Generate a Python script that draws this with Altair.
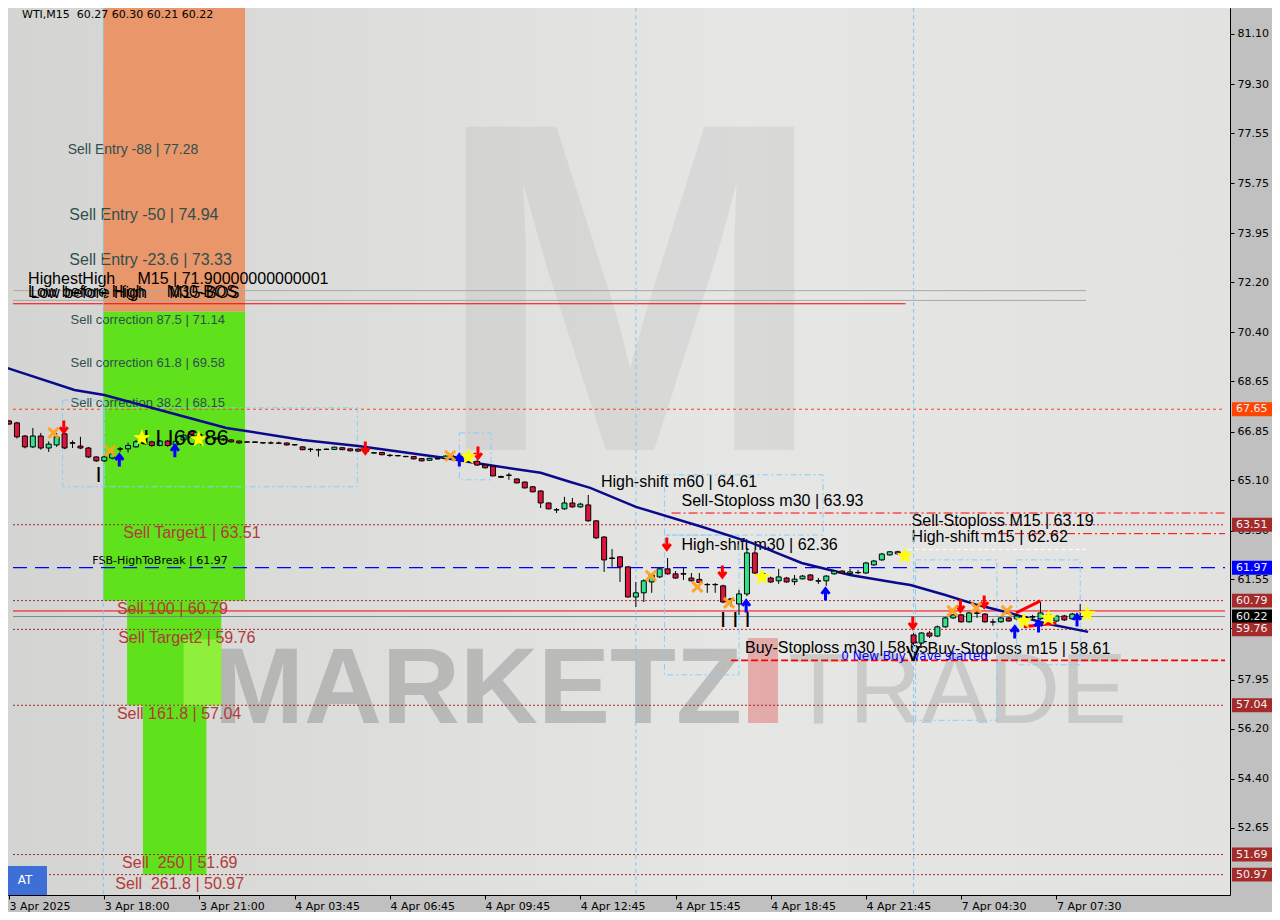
import altair as alt
import pandas as pd

# ---------------- candles (M15 bars, index 0..135) ----------------
opens = [67.23, 67.16, 66.69, 66.30, 66.69, 66.26, 66.37, 66.77, 66.45, 66.33,
         66.26, 65.94, 65.80, 65.90, 66.22, 66.23, 66.30, 66.45, 66.48, 66.35,
         66.51, 66.37, 66.55, 66.85, 66.75, 66.66, 66.62, 66.58, 66.55, 66.51,
         66.48, 66.48, 66.45, 66.44, 66.44, 66.44, 66.38, 66.30, 66.22, 66.20,
         66.22, 66.21, 66.27, 66.23, 66.22, 66.22, 66.09, 66.10, 66.00, 65.99,
         65.96, 65.95, 65.88, 65.82, 65.88, 65.88, 65.96, 65.95, 65.93, 65.78,
         65.65, 65.60, 65.24, 65.29, 65.15, 65.04, 64.87, 64.72, 64.29, 64.05,
         64.08, 64.29, 64.15, 64.22, 63.65, 63.07, 62.32, 62.36, 62.00, 60.92,
         61.07, 61.46, 61.64, 61.93, 61.75, 61.76, 61.60, 61.55, 61.37, 61.37,
         61.32, 60.85, 60.67, 61.03, 62.50, 61.75, 61.60, 61.50, 61.60, 61.47,
         61.57, 61.71, 61.50, 61.50, 61.75, 61.85, 61.76, 61.80, 61.78, 62.07,
         62.25, 62.43, 62.54, 62.48, 59.56, 59.27, 59.63, 59.52, 59.85, 60.17,
         60.28, 60.03, 60.35, 60.31, 60.03, 60.03, 60.17, 60.14, 60.22, 60.20,
         60.14, 60.10, 60.06, 60.24, 60.14, 60.21]
highs = [67.27, 67.20, 66.72, 66.98, 66.80, 66.50, 66.80, 66.85, 66.53, 66.66,
         66.30, 65.96, 65.98, 66.10, 66.30, 66.45, 66.55, 66.50, 66.52, 66.55,
         66.55, 66.55, 66.78, 66.90, 66.80, 66.70, 66.66, 66.62, 66.58, 66.53,
         66.50, 66.50, 66.47, 66.50, 66.49, 66.46, 66.40, 66.32, 66.26, 66.24,
         66.24, 66.31, 66.29, 66.25, 66.24, 66.26, 66.11, 66.12, 66.05, 66.01,
         65.98, 65.97, 65.90, 65.91, 65.90, 66.00, 66.00, 66.05, 66.08, 65.85,
         65.67, 65.62, 65.27, 65.37, 65.17, 65.06, 64.90, 64.74, 64.31, 64.11,
         64.51, 64.47, 64.30, 64.58, 63.67, 63.10, 62.64, 62.38, 62.02, 61.46,
         61.55, 61.75, 61.96, 62.32, 61.85, 61.96, 61.78, 61.78, 61.42, 61.42,
         61.36, 60.89, 61.17, 62.68, 62.60, 61.80, 61.65, 61.93, 61.64, 61.71,
         61.71, 61.74, 61.60, 61.70, 61.89, 61.88, 61.93, 61.89, 62.18, 62.25,
         62.50, 62.57, 62.58, 62.52, 59.63, 59.66, 59.70, 59.90, 60.21, 60.31,
         60.31, 60.38, 60.40, 60.34, 60.14, 60.20, 60.20, 60.27, 60.26, 60.28,
         60.74, 60.32, 60.28, 60.28, 60.35, 60.67]
lows = [67.09, 66.60, 66.25, 66.26, 66.20, 66.12, 66.30, 66.22, 66.26, 66.22,
        65.90, 65.76, 65.76, 65.85, 66.12, 66.10, 66.28, 66.38, 66.30, 66.32,
        66.30, 66.33, 66.50, 66.70, 66.60, 66.58, 66.55, 66.52, 66.46, 66.42,
        66.45, 66.44, 66.42, 66.40, 66.40, 66.35, 66.35, 66.18, 66.12, 65.95,
        66.19, 66.19, 66.18, 66.14, 66.13, 66.12, 66.06, 66.00, 65.94, 65.96,
        65.93, 65.85, 65.78, 65.80, 65.85, 65.85, 65.90, 65.92, 65.90, 65.62,
        65.53, 65.25, 65.19, 65.12, 64.99, 64.81, 64.67, 64.11, 64.06, 63.93,
        64.05, 64.12, 64.12, 63.62, 63.00, 61.82, 62.00, 61.46, 60.90, 60.56,
        60.74, 61.07, 61.60, 61.72, 61.58, 61.53, 61.48, 61.42, 61.07, 61.07,
        60.70, 60.56, 60.28, 60.95, 61.75, 61.58, 61.42, 61.39, 61.43, 61.35,
        61.55, 61.50, 61.39, 61.32, 61.72, 61.76, 61.71, 61.74, 61.75, 62.04,
        62.22, 62.40, 62.44, 62.38, 59.20, 59.22, 59.45, 59.48, 59.82, 60.14,
        60.00, 60.00, 60.17, 60.00, 59.89, 60.00, 60.04, 60.10, 60.15, 60.10,
        60.10, 60.06, 60.03, 60.06, 60.10, 60.17]
closes = [67.12, 66.66, 66.30, 66.69, 66.26, 66.40, 66.66, 66.26, 66.43, 66.26,
          65.94, 65.80, 65.94, 66.05, 66.23, 66.35, 66.48, 66.42, 66.35, 66.51,
          66.35, 66.50, 66.72, 66.75, 66.66, 66.62, 66.58, 66.55, 66.48, 66.44,
          66.47, 66.46, 66.44, 66.44, 66.43, 66.37, 66.37, 66.20, 66.21, 66.19,
          66.21, 66.29, 66.20, 66.16, 66.15, 66.14, 66.08, 66.02, 65.99, 65.98,
          65.95, 65.87, 65.80, 65.89, 65.87, 65.97, 65.93, 66.00, 66.02, 65.65,
          65.55, 65.26, 65.21, 65.28, 65.01, 64.83, 64.69, 64.29, 64.08, 64.04,
          64.29, 64.15, 64.25, 63.65, 63.04, 62.25, 62.30, 62.00, 60.92, 61.07,
          61.50, 61.71, 61.93, 61.75, 61.60, 61.74, 61.50, 61.44, 61.36, 61.36,
          60.74, 60.84, 61.03, 62.50, 61.78, 61.62, 61.46, 61.64, 61.46, 61.56,
          61.67, 61.53, 61.49, 61.67, 61.85, 61.78, 61.82, 61.79, 62.14, 62.21,
          62.46, 62.54, 62.47, 62.42, 59.27, 59.63, 59.52, 59.85, 60.17, 60.28,
          60.03, 60.35, 60.33, 60.03, 60.02, 60.17, 60.06, 60.24, 60.20, 60.22,
          60.35, 60.28, 60.24, 60.10, 60.31, 60.22]
bar_index = list(range(len(opens)))

# moving average (read at points along the navy line)
ma_index = [-0.25, 8.25, 12, 27.4, 37, 44, 55, 58.6, 67, 70.75, 73.25, 79, 87.4,
            93.6, 99.9, 106, 112, 113.6, 117.9, 122, 126.1, 130.4, 136]
ma_value = [69.13, 68.34, 68.16, 66.98, 66.55, 66.33, 65.90, 65.73, 65.37, 65.04,
            64.83, 64.15, 63.43, 62.86, 62.14, 61.71, 61.42, 61.35, 61.00, 60.64,
            60.35, 59.99, 59.67]

# axes
x_tick_index = [0, 12, 24, 36, 48, 60, 72, 84, 96, 108, 120, 132]
x_tick_labels = ["3 Apr 2025", "3 Apr 18:00", "3 Apr 21:00", "4 Apr 03:45", "4 Apr 06:45",
                 "4 Apr 09:45", "4 Apr 12:45", "4 Apr 15:45", "4 Apr 18:45", "4 Apr 21:45",
                 "7 Apr 04:30", "7 Apr 07:30"]
y_tick_values = [81.10, 79.30, 77.55, 75.75, 73.95, 72.20, 70.40, 68.65, 66.85, 65.10,
                 63.30, 61.55, 59.80, 57.95, 56.20, 54.40, 52.65]

X0, X1 = 0.5, 153.25          # visible bar-index range
P0, P1 = 50.24, 82.03         # visible price range

# horizontal levels
hl_price = [67.65, 63.93, 63.51, 63.19, 62.62, 61.97, 60.79, 60.42, 60.22, 59.76,
            58.65, 57.04, 51.69, 50.97, 71.90, 71.55, 71.43]
hl_start = [X0, 83.5, X0, 122.5, 113.25, X0, X0, X0, X0, X0,
            91.0, X0, X0, X0, X0, X0, X0]
hl_end = [X1, X1, X1, X1, 135.75, X1, X1, X1, X1, X1,
          X1, X1, X1, X1, 135.75, 135.75, 113.0]
hl_color = ["#ff4500", "#ff0000", "#a52a2a", "#ff0000", "#ffffff", "#0000ff", "#a52a2a",
            "#ff0000", "#778899", "#a52a2a", "#ff0000", "#a52a2a", "#a52a2a", "#a52a2a",
            "#a9a9a9", "#a9a9a9", "#ff0000"]
hl_dash = [[3, 3], [9, 3, 2, 3], [2, 2], [9, 3, 2, 3], [4, 3], [14, 8], [2, 2], [1, 0],
           [1, 0], [2, 2], [7, 3], [2, 2], [2, 2], [2, 2], [1, 0], [1, 0], [1, 0]]
hl_width = [1, 1, 1, 1, 1, 1.3, 1, 1, 1, 1, 1.6, 1, 1, 1, 1, 1, 1]

# axis price boxes
box_price = [67.65, 63.51, 61.97, 60.79, 60.22, 59.76, 57.04, 51.69, 50.97]
box_color = ["#ff4500", "#a52a2a", "#0000ff", "#a52a2a", "#000000", "#a52a2a", "#a52a2a",
             "#a52a2a", "#a52a2a"]

# zones
zone_x1 = [11.875, 11.875, 14.875, 22.0, 16.875]
zone_x2 = [29.75, 29.75, 26.75, 26.75, 24.875]
zone_top = [P1, 71.14, 60.79, 59.40, 57.04]
zone_bot = [71.14, 60.79, 57.04, 57.04, 50.97]
zone_color = ["#e9966a", "#5fe21c", "#5fe21c", "#8ef03a", "#5fe21c"]

# light blue dashed boxes
lb_x1 = [6.75, 12.0, 56.75, 82.6, 82.6, 114.25, 127.0]
lb_x2 = [12.0, 43.9, 60.75, 102.6, 92.0, 124.5, 135.0]
lb_top = [67.98, 67.70, 66.80, 65.30, 63.14, 62.25, 62.25]
lb_bot = [64.87, 64.87, 65.12, 63.14, 58.13, 56.50, 58.49]

# vertical separators
vsep_index = [11.875, 79.0, 114.0]

# signals
down_i = [6.9, 44.9, 59.1, 82.9, 89.9, 113.9, 119.9, 122.9]
down_p = [67.01, 66.26, 66.08, 62.82, 61.82, 59.99, 60.60, 60.74]
up_i = [13.9, 20.9, 56.75, 92.9, 102.9, 126.75, 129.75, 134.6]
up_p = [65.83, 66.16, 65.83, 60.60, 61.03, 59.67, 59.88, 60.10]
x_i = [5.6, 12.75, 55.6, 80.9, 86.75, 90.75, 118.9, 121.9, 125.75]
x_p = [66.80, 66.16, 65.98, 61.68, 61.28, 60.71, 60.42, 60.53, 60.42]
star_i = [16.75, 23.9, 57.9, 94.9, 112.9, 127.9, 131.0, 135.9]
star_p = [66.62, 66.58, 65.94, 61.64, 62.39, 60.06, 60.17, 60.31]
seg_i1 = [126.9, 127.9]
seg_p1 = [60.35, 59.85]
seg_i2 = [130.0, 132.0]
seg_p2 = [60.78, 59.99]

# annotations: (text, index, price) grouped by style
NB = "\u00a0"
entry_text = ["Sell Entry -88 | 77.28", "Sell Entry -50 | 74.94", "Sell Entry -23.6 | 73.33"]
entry_i = [7.4, 7.6, 7.6]
entry_p = [76.94, 74.61, 73.00]
entry_size = [14, 16, 16]

corr_text = ["Sell correction 87.5 | 71.14", "Sell correction 61.8 | 69.58",
             "Sell correction 38.2 | 68.15"]
corr_i = [7.75, 7.75, 7.75]
corr_p = [70.85, 69.31, 67.88]

target_text = ["Sell Target1 | 63.51", "Sell 100 | 60.79", "Sell Target2 | 59.76",
               "Sell 161.8 | 57.04", "Sell" + NB + " 250 | 51.69", "Sell" + NB + " 261.8 | 50.97"]
target_i = [14.4, 13.6, 13.75, 13.6, 14.25, 13.4]
target_p = [63.22, 60.49, 59.45, 56.73, 51.39, 50.64]

black_text = ["HighestHigh" + NB * 5 + "M15 | 71.90000000000001",
              "Low before High" + NB * 5 + "M30-BOS",
              "Low before High" + NB * 5 + "M15-BOS",
              "High-shift m60 | 64.61", "Sell-Stoploss m30 | 63.93", "High-shift m30 | 62.36",
              "Sell-Stoploss M15 | 63.19", "High-shift m15 | 62.62",
              "Buy-Stoploss m30 | 58.65", "Buy-Stoploss m15 | 58.61"]
black_i = [2.4, 2.4, 2.7, 74.6, 84.75, 84.75, 113.75, 113.75, 92.75, 115.75]
black_p = [72.32, 71.85, 71.80, 65.04, 64.36, 62.79, 63.65, 63.07, 59.09, 59.06]

mark_text_ = ["66.86", "I I I", "I", "I I I", "V"]
mark_i = [20.75, 16.9, 10.9, 89.6, 113.0]
mark_p = [66.62, 66.62, 65.30, 60.10, 58.89]

small_text = ["FSB-HighToBreak | 61.97", "0 New Buy wave started"]
small_i = [10.5, 104.9]
small_p = [62.21, 58.81]
small_color = ["#000000", "#0000ff"]
small_size = [11, 12]

# ---------------- chart ----------------
W, H = 1222, 887
xs = alt.Scale(domain=[X0, X1], nice=False, zero=False)
ys = alt.Scale(domain=[P0, P1], nice=False, zero=False)

label_arr = "[" + ",".join("'" + s + "'" for s in x_tick_labels) + "]"
x_axis = alt.Axis(values=x_tick_index, labelExpr=label_arr + "[round(datum.value/12)]",
                  labelAlign="left", labelFont="DejaVu Sans", labelFontSize=11,
                  labelColor="black", tickColor="black", tickSize=4, domain=False,
                  grid=False, title=None, labelPadding=1, labelFlush=False,
                  labelOverlap=False, orient="bottom")
y_axis = alt.Axis(orient="right", values=y_tick_values, format=".2f",
                  labelFont="DejaVu Sans", labelFontSize=11, labelColor="black",
                  tickColor="black", tickSize=4, domain=False, grid=False, title=None,
                  labelPadding=3, labelOverlap=False)


def X(f="x"):
    return alt.X(f + ":Q", scale=xs, axis=x_axis)


def Y(f="y"):
    return alt.Y(f + ":Q", scale=ys, axis=y_axis)


one = pd.DataFrame({"a": [0]})

bg = alt.Chart(one).mark_rect(
    color=alt.LinearGradient(gradient="linear",
                             stops=[alt.GradientStop(color="#d4d4d2", offset=0),
                                    alt.GradientStop(color="#e6e6e5", offset=0.6),
                                    alt.GradientStop(color="#e2e2e1", offset=1)],
                             x1=0, x2=1, y1=0, y2=0)
).encode(x=alt.value(0), x2=alt.value(W), y=alt.value(0), y2=alt.value(H))

logo = alt.Chart(one).mark_text(text="M", font="Liberation Sans", fontWeight="bold",
                                fontSize=470, color="#8a8a8a", opacity=0.13,
                                align="center", baseline="alphabetic").encode(
    x=alt.value(622), y=alt.value(442))
wm1 = alt.Chart(one).mark_text(text="MARKETZ", font="Liberation Sans", fontWeight="bold",
                               fontSize=108, color="#8c8c8c", opacity=0.45,
                               align="left", baseline="alphabetic").encode(
    x=alt.value(206), y=alt.value(715))
wm2 = alt.Chart(one).mark_text(text="TRADE", font="Liberation Sans", fontSize=100,
                               color="#9a9a9a", opacity=0.35,
                               align="left", baseline="alphabetic").encode(
    x=alt.value(780), y=alt.value(715))
wm_red = alt.Chart(one).mark_rect(color="#e07070", opacity=0.5).encode(
    x=alt.value(740), x2=alt.value(770), y=alt.value(630), y2=alt.value(715))

title = alt.Chart(one).mark_text(text="WTI,M15" + NB + " 60.27 60.30 60.21 60.22",
                                 font="DejaVu Sans", fontSize=11, color="black",
                                 align="left", baseline="middle").encode(
    x=alt.value(14), y=alt.value(7))
at_box = alt.Chart(one).mark_rect(color="#3d6fd6").encode(
    x=alt.value(0), x2=alt.value(39), y=alt.value(858), y2=alt.value(H))
at_txt = alt.Chart(one).mark_text(text="AT", font="DejaVu Sans", fontSize=12,
                                  color="white", align="center", baseline="middle").encode(
    x=alt.value(17), y=alt.value(872))

zones_df = pd.DataFrame({"x": zone_x1, "x2": zone_x2, "y": zone_top, "y2": zone_bot,
                         "c": zone_color})
zones = alt.Chart(zones_df).mark_rect().encode(
    x=X(), x2="x2:Q", y=Y(), y2="y2:Q", color=alt.Color("c:N", scale=None))

layers = [bg, logo, wm1, wm2, wm_red, zones]

for p, s, e, c, d, w in zip(hl_price, hl_start, hl_end, hl_color, hl_dash, hl_width):
    df = pd.DataFrame({"x": [s], "x2": [e], "y": [p]})
    layers.append(alt.Chart(df).mark_rule(color=c, strokeDash=d, strokeWidth=w).encode(
        x=X(), x2="x2:Q", y=Y()))


def text_layer(texts, xi, yp, font, size, color):
    df = pd.DataFrame({"x": xi, "y": yp, "t": texts})
    return alt.Chart(df).mark_text(font=font, fontSize=size, color=color, align="left",
                                   baseline="middle").encode(x=X(), y=Y(), text="t:N")


for t, xi, yp, s in zip(entry_text, entry_i, entry_p, entry_size):
    layers.append(text_layer([t], [xi], [yp], "Liberation Sans", s, "#2f4f4f"))
layers.append(text_layer(corr_text, corr_i, corr_p, "Liberation Sans", 13, "#2f4f4f"))
layers.append(text_layer(target_text, target_i, target_p, "Liberation Sans", 16, "#b23a3a"))
layers.append(text_layer(black_text, black_i, black_p, "Liberation Sans", 16, "#000000"))
for t, xi, yp, c, s in zip(small_text, small_i, small_p, small_color, small_size):
    layers.append(text_layer([t], [xi], [yp], "DejaVu Sans", s, c))

bx = pd.DataFrame({"y": [p + 0.25 for p in box_price], "y2": [p - 0.25 for p in box_price],
                   "p": box_price, "c": box_color,
                   "t": ["%.2f" % p for p in box_price]})
layers.append(alt.Chart(bx).mark_rect().encode(
    x=alt.value(W + 2), x2=alt.value(W + 42), y=Y(), y2="y2:Q",
    color=alt.Color("c:N", scale=None)))
layers.append(alt.Chart(bx).mark_text(font="DejaVu Sans", fontSize=11, color="#f0f0f0",
                                      align="left", baseline="middle").encode(
    x=alt.value(W + 6), y=Y("p"), text="t:N"))

vs_df = pd.DataFrame({"x": vsep_index})
layers.append(alt.Chart(vs_df).mark_rule(color="#7fc8f0", strokeDash=[4, 3],
                                         strokeWidth=1).encode(x=X()))

lb_df = pd.DataFrame({"x": lb_x1, "x2": lb_x2, "y": lb_top, "y2": lb_bot})
layers.append(alt.Chart(lb_df).mark_rect(fillOpacity=0, stroke="#87cefa", strokeWidth=1,
                                         strokeDash=[6, 3, 2, 3]).encode(
    x=X(), x2="x2:Q", y=Y(), y2="y2:Q"))

ma_df = pd.DataFrame({"x": ma_index, "y": ma_value})
layers.append(alt.Chart(ma_df).mark_line(color="#0a0a8c", strokeWidth=2.5, clip=True).encode(
    x=X(), y=Y()))

cd = pd.DataFrame({"x": bar_index, "o": opens, "h": highs, "l": lows, "c": closes})
cd["col"] = ["#2fe38e" if c >= o else "#dc143c" for o, c in zip(opens, closes)]
wicks = alt.Chart(cd).mark_rule(color="black", strokeWidth=1, clip=True).encode(
    x=X(), y=Y("l"), y2="h:Q")
bodies = alt.Chart(cd).mark_bar(width=5, stroke="black", strokeWidth=1, clip=True).encode(
    x=X(), y=Y("o"), y2="c:Q", color=alt.Color("col:N", scale=None))
layers += [wicks, bodies]

layers.append(text_layer(mark_text_, mark_i, mark_p, "Liberation Sans", 22, "#000000"))

seg_df = pd.DataFrame({"x": seg_i1, "y": seg_p1, "x2": seg_i2, "y2": seg_p2})
layers.append(alt.Chart(seg_df).mark_rule(color="#ff0000", strokeWidth=3).encode(
    x=X(), y=Y(), x2="x2:Q", y2="y2:Q"))

down_path = "M0,-1L0,0.55M-0.6,0L0,0.8L0.6,0"
up_path = "M0,1L0,-0.55M-0.6,0L0,-0.8L0.6,0"
x_path = ("M-1,-0.65L-0.65,-1L0,-0.35L0.65,-1L1,-0.65L0.35,0L1,0.65L0.65,1L0,0.35"
          "L-0.65,1L-1,0.65L-0.35,0Z")
star_path = ("M0,-1L0.235,-0.324L0.951,-0.309L0.38,0.124L0.588,0.809L0,0.4L-0.588,0.809"
             "L-0.38,0.124L-0.951,-0.309L-0.235,-0.324Z")
layers.append(alt.Chart(pd.DataFrame({"x": down_i, "y": down_p})).mark_point(
    shape=down_path, filled=False, color="#ff0000", strokeWidth=3, size=170,
    opacity=1).encode(x=X(), y=Y()))
layers.append(alt.Chart(pd.DataFrame({"x": up_i, "y": up_p})).mark_point(
    shape=up_path, filled=False, color="#0000ff", strokeWidth=3, size=170,
    opacity=1).encode(x=X(), y=Y()))
layers.append(alt.Chart(pd.DataFrame({"x": x_i, "y": x_p})).mark_point(
    shape=x_path, filled=True, color="#ffa21f", size=150, opacity=0.95).encode(
    x=X(), y=Y()))
layers.append(alt.Chart(pd.DataFrame({"x": star_i, "y": star_p})).mark_point(
    shape=star_path, filled=True, color="#ffff00", size=330, opacity=1).encode(
    x=X(), y=Y()))

layers += [title, at_box, at_txt]

chart = alt.layer(*layers).properties(
    width=W, height=H,
    autosize=alt.AutoSizeParams(type="none"),
    padding={"left": 0, "top": 0, "right": 42, "bottom": 17},
    background="#c0c0c0"
).configure_view(stroke="black", strokeWidth=1, fill="#dedede")

chart.save("out.html", embed_options={"renderer": "svg", "actions": False})
